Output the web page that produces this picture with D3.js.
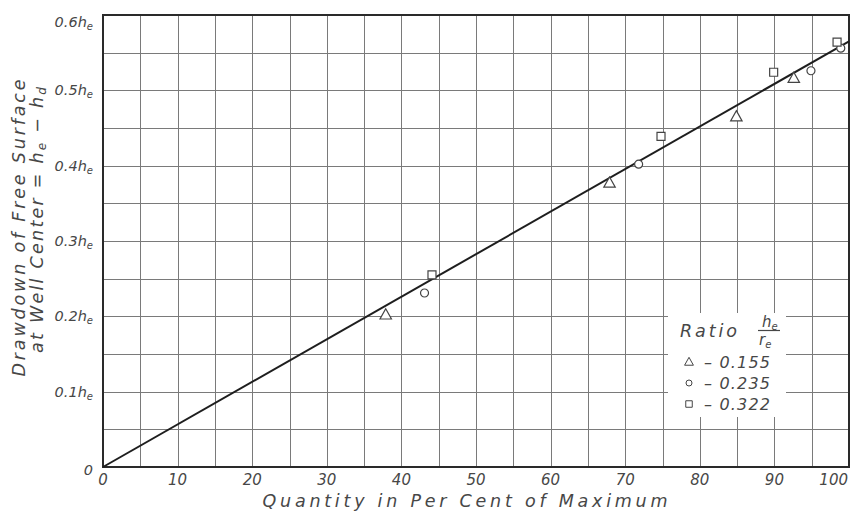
<!DOCTYPE html>
<html>
<head>
<meta charset="utf-8">
<script src="https://cdn.jsdelivr.net/npm/d3@7/dist/d3.min.js"></script>
<style>
  html, body { margin: 0; padding: 0; background: #ffffff; }
  svg { display: block; }
  text { font-family: "DejaVu Sans", "Liberation Sans", sans-serif; font-style: italic; fill: #474747; }
</style>
</head>
<body>
<svg id="chart" width="851" height="513"></svg>
<script>
// Drawdown at well centre against discharge, three he/re ratios
const xTickValues = [0, 10, 20, 30, 40, 50, 60, 70, 80, 90, 100];
const yTickValues = [0, 0.1, 0.2, 0.3, 0.4, 0.5, 0.6];
const xGridValues = d3.range(0, 101, 5);
const yGridValues = d3.range(0, 0.6001, 0.05);

// Fitted line: drawdown = 0.565 he at 100 per cent
const fitLine = [[0, 0], [100, 0.565]];

// Test series, [quantity %, drawdown / he]
const ratio155 = [[37.9, 0.202], [67.9, 0.377], [84.9, 0.465], [92.6, 0.516]];
const ratio235 = [[43.1, 0.231], [71.8, 0.402], [94.9, 0.526], [98.9, 0.556]];
const ratio322 = [[44.1, 0.255], [74.8, 0.439], [89.9, 0.524], [98.4, 0.564]];
const legendLabels = ["0.155", "0.235", "0.322"];

const svg = d3.select("#chart");
const plotL = 103, plotR = 849, plotT = 15, plotB = 467;

const x = d3.scaleLinear().domain([0, 100]).range([plotL, plotR]);
const y = d3.scaleLinear().domain([0, 0.6]).range([plotB, plotT]);

// grid
const grid = svg.append("g").attr("stroke", "#7a7a7a").attr("stroke-width", 1);
grid.selectAll("line.v").data(xGridValues).join("line")
  .attr("class", "v")
  .attr("x1", d => Math.round(x(d)) + 0.5).attr("x2", d => Math.round(x(d)) + 0.5)
  .attr("y1", plotT).attr("y2", plotB);
grid.selectAll("line.h").data(yGridValues).join("line")
  .attr("class", "h")
  .attr("y1", d => Math.round(y(d)) + 0.5).attr("y2", d => Math.round(y(d)) + 0.5)
  .attr("x1", plotL).attr("x2", plotR);

// clear area behind the legend
svg.append("rect")
  .attr("x", 668).attr("y", 313).attr("width", 118).attr("height", 104)
  .attr("fill", "#ffffff");

// frame
svg.append("rect")
  .attr("x", plotL).attr("y", plotT)
  .attr("width", plotR - plotL).attr("height", plotB - plotT)
  .attr("fill", "none").attr("stroke", "#2a2a2a").attr("stroke-width", 2);

// fitted line
svg.append("path")
  .datum(fitLine)
  .attr("d", d3.line().x(d => x(d[0])).y(d => y(d[1])))
  .attr("fill", "none").attr("stroke", "#1e1e1e").attr("stroke-width", 2);

// markers
const triPath = s => `M0,${-s * 0.55}L${s * 0.52},${s * 0.38}L${-s * 0.52},${s * 0.38}Z`;
const sqPath = s => `M${-s / 2},${-s / 2}h${s}v${s}h${-s}Z`;
const circPath = s => `M${s / 2},0A${s / 2},${s / 2} 0 1,1 ${-s / 2},0A${s / 2},${s / 2} 0 1,1 ${s / 2},0Z`;

const series = [
  { data: ratio155, shape: triPath, size: 11 },
  { data: ratio235, shape: circPath, size: 8 },
  { data: ratio322, shape: sqPath, size: 8 }
];
series.forEach(s => {
  svg.append("g").selectAll("path").data(s.data).join("path")
    .attr("transform", d => `translate(${x(d[0])},${y(d[1])})`)
    .attr("d", s.shape(s.size))
    .attr("fill", "#ffffff").attr("stroke", "#444").attr("stroke-width", 1.2);
});

// x tick labels
svg.append("g").selectAll("text").data(xTickValues).join("text")
  .attr("x", d => d === 100 ? x(d) - 1 : x(d))
  .attr("y", 485)
  .attr("text-anchor", d => d === 100 ? "end" : "middle")
  .attr("font-size", 15)
  .text(d => d);

// y tick labels, "0.Xhe"
const yLab = svg.append("g").selectAll("text").data(yTickValues).join("text")
  .attr("x", 93)
  .attr("y", d => d === 0 ? y(d) + 8 : (d === 0.6 ? y(d) + 12 : y(d) + 5))
  .attr("text-anchor", "end")
  .attr("font-size", 14.5);
yLab.each(function (d) {
  const t = d3.select(this);
  if (d === 0) { t.text("0"); return; }
  t.append("tspan").text(d3.format(".1f")(d));
  t.append("tspan").text("h");
  t.append("tspan").attr("font-size", 10).attr("dy", 3).text("e");
});

// axis titles
svg.append("text")
  .attr("x", 465).attr("y", 507)
  .attr("text-anchor", "middle")
  .attr("font-size", 17.5)
  .attr("textLength", 405).attr("lengthAdjust", "spacing")
  .text("Quantity in Per Cent of Maximum");

svg.append("text")
  .attr("transform", "translate(25,228) rotate(-90)")
  .attr("text-anchor", "middle")
  .attr("font-size", 17.5)
  .attr("textLength", 297).attr("lengthAdjust", "spacing")
  .text("Drawdown of Free Surface");

const t2 = svg.append("text")
  .attr("transform", "translate(43,220) rotate(-90)")
  .attr("text-anchor", "middle")
  .attr("font-size", 17.5)
  .attr("textLength", 266).attr("lengthAdjust", "spacing");
t2.append("tspan").text("at Well Center = h");
t2.append("tspan").attr("font-size", 12).attr("dy", 3).text("e");
t2.append("tspan").attr("dy", -3).text(" − h");
t2.append("tspan").attr("font-size", 12).attr("dy", 3).text("d");

// legend
const lg = svg.append("g");
lg.append("text").attr("x", 680).attr("y", 337).attr("font-size", 17.5)
  .attr("textLength", 57).attr("lengthAdjust", "spacing").text("Ratio");
const num = lg.append("text").attr("x", 762).attr("y", 327).attr("font-size", 15);
num.append("tspan").text("h");
num.append("tspan").attr("font-size", 10).attr("dy", 3).text("e");
lg.append("line").attr("x1", 758).attr("x2", 780).attr("y1", 330.5).attr("y2", 330.5)
  .attr("stroke", "#474747").attr("stroke-width", 1.2);
const den = lg.append("text").attr("x", 759).attr("y", 345).attr("font-size", 15);
den.append("tspan").text("r");
den.append("tspan").attr("font-size", 10).attr("dy", 3).text("e");

const legendShapes = [
  { shape: triPath, size: 8.5 },
  { shape: circPath, size: 6 },
  { shape: sqPath, size: 6.5 }
];
legendLabels.forEach((lab, i) => {
  const cy = 362 + i * 21;
  lg.append("path")
    .attr("transform", `translate(689,${cy})`)
    .attr("d", legendShapes[i].shape(legendShapes[i].size))
    .attr("fill", "#ffffff").attr("stroke", "#444").attr("stroke-width", 1);
  lg.append("text").attr("x", 704).attr("y", cy + 6).attr("font-size", 16)
    .attr("textLength", 66).attr("lengthAdjust", "spacing")
    .text("– " + lab);
});
</script>
</body>
</html>
